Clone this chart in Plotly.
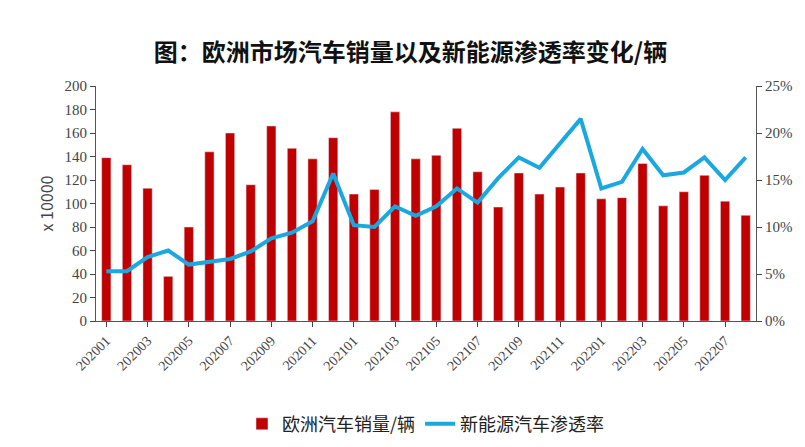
import plotly.graph_objects as go

months = [f"{y}{m:02d}" for y, n in ((2020, 12), (2021, 12), (2022, 8)) for m in range(1, n + 1)]
sales = [139, 133, 113, 38, 80, 144, 160, 116, 166, 147, 138, 156, 108, 112, 178, 138,
         141, 164, 127, 97, 126, 108, 114, 126, 104, 105, 134, 98, 110, 124, 102, 90]
nev_rate = [5.3, 5.3, 6.8, 7.5, 6.0, 6.3, 6.6, 7.4, 8.8, 9.4, 10.6, 15.7, 10.2, 10.0, 12.2, 11.2,
            12.2, 14.1, 12.6, 15.2, 17.4, 16.3, 18.9, 21.5, 14.1, 14.8, 18.3, 15.5, 15.8, 17.4, 15.0, 17.4]
tick_months = months[::2]

font = "Noto Sans CJK SC"
fig = go.Figure()
fig.add_trace(go.Bar(x=months, y=sales, name="欧洲汽车销量/辆", marker_color="#C00000", width=0.45))
fig.add_trace(go.Scatter(x=months, y=nev_rate, name="新能源汽车渗透率", yaxis="y2",
                         mode="lines", line=dict(color="#1BA8E0", width=4)))

fig.update_layout(
    width=805, height=447, plot_bgcolor="white", paper_bgcolor="white",
    margin=dict(l=88, r=57, t=78, b=114),
    title=dict(text="<b>图：欧洲市场汽车销量以及新能源渗透率变化/辆</b>", x=0.5, y=0.92,
               font=dict(family=font, size=24, color="#111")),
    font=dict(family="Liberation Serif", size=15, color="#444"),
    xaxis=dict(type="category", tickvals=tick_months, tickangle=-45, showline=True, linecolor="#555",
               ticks="outside", ticklen=5, tickfont=dict(size=14), range=[-0.5, 31.5]),
    yaxis=dict(range=[0, 200], dtick=20, showgrid=False, showline=True, linecolor="#555",
               ticks="outside", ticklen=5, title=dict(text="x 10000", standoff=6, font=dict(family=font, size=16))),
    yaxis2=dict(range=[0, 25], dtick=5, ticksuffix="%", overlaying="y", side="right", showgrid=False,
                showline=True, linecolor="#555", ticks="outside", ticklen=5),
    legend=dict(orientation="h", x=0.5, xanchor="center", y=-0.36, yanchor="top",
                font=dict(family=font, size=18, color="#222")),
)
fig.write_html("out.html")
